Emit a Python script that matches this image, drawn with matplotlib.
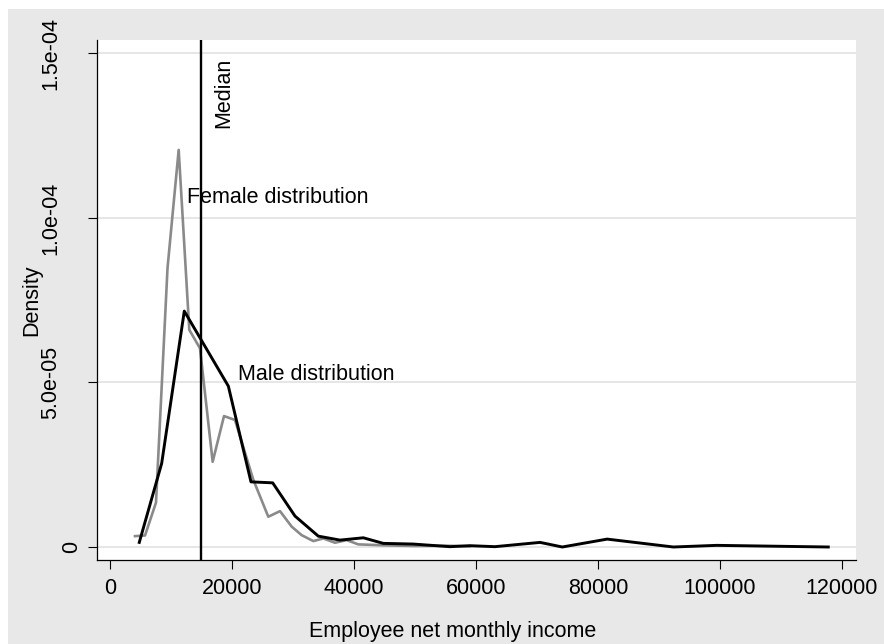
import matplotlib
matplotlib.use("Agg")
import matplotlib.pyplot as plt
from matplotlib.patches import Rectangle

plt.rcParams['font.family'] = ['Liberation Sans', 'DejaVu Sans']

# density estimates
male_x = [4800, 8470, 12180, 19400, 23110, 26670, 30330, 34150, 37700, 41530,
          44800, 49700, 55700, 59000, 63100, 70500, 74150, 81500, 92350, 99450, 117750]
male_y = [0.14e-5, 2.54e-5, 7.17e-5, 4.89e-5, 1.98e-5, 1.95e-5, 0.94e-5, 0.33e-5,
          0.21e-5, 0.28e-5, 0.11e-5, 0.09e-5, 0.01e-5, 0.04e-5, 0.01e-5, 0.14e-5,
          0.0, 0.24e-5, 0.0, 0.05e-5, 0.0]

female_x = [4100, 5740, 7540, 9430, 11260, 13000, 14750, 16830, 18690, 20490,
            23500, 25950, 27870, 29780, 31420, 33330, 34970, 36880, 38800, 40700,
            45000, 50000, 55000, 59000]
female_y = [0.33e-5, 0.35e-5, 1.35e-5, 8.48e-5, 12.07e-5, 6.6e-5, 6.04e-5, 2.59e-5,
            3.98e-5, 3.86e-5, 2.04e-5, 0.92e-5, 1.09e-5, 0.62e-5, 0.36e-5, 0.18e-5,
            0.26e-5, 0.13e-5, 0.21e-5, 0.08e-5, 0.05e-5, 0.03e-5, 0.04e-5, 0.02e-5]

median = 15000

xticks = [0, 20000, 40000, 60000, 80000, 100000, 120000]
yticks = [0, 5e-5, 1e-4, 1.5e-4]
ytick_labels = ['0', '5.0e-05', '1.0e-04', '1.5e-04']

W, H = 884, 644
fig = plt.figure(figsize=(W / 100, H / 100), dpi=100, facecolor='white')
# stata style grey frame with a thin white border top/left
fig.patches.append(Rectangle((8 / W, 0), 1, (H - 9) / H, transform=fig.transFigure,
                             facecolor='#e8e8e8', edgecolor='none', zorder=-10))

ax = fig.add_axes([97 / W, (H - 560) / H, 759 / W, 520 / H])
ax.set_facecolor('white')

ax.plot(female_x, female_y, color='#8a8a8a', lw=1.9, zorder=3)
ax.plot(male_x, male_y, color='black', lw=2.1, zorder=4)
ax.axvline(median, color='black', lw=1.7, zorder=5)

fs = 15.5
ax.text(18690, 1.274e-4, 'Median', rotation=90, ha='center', va='bottom', fontsize=fs)
ax.text(12620, 1.061e-4, 'Female distribution', ha='left', va='center', fontsize=fs, zorder=6)
ax.text(20980, 5.23e-5, 'Male distribution', ha='left', va='center', fontsize=fs, zorder=6)

ax.set_xlim(-2131, 122295)
ax.set_ylim(-3.95e-6, 1.541e-4)
ax.set_xticks(xticks)
ax.set_xticklabels([str(t) for t in xticks])
ax.set_yticks(yticks)
ax.set_yticklabels(ytick_labels, rotation=90, va='center')
ax.yaxis.grid(True, color='#e4e4e4', lw=1.3)
ax.set_axisbelow(True)

for s in ['top', 'right']:
    ax.spines[s].set_visible(False)
for s in ['left', 'bottom']:
    ax.spines[s].set_linewidth(0.9)

ax.tick_params(axis='x', length=6.5, width=0.8, pad=6.5, labelsize=fs)
ax.tick_params(axis='y', length=6.5, width=0.8, pad=19, labelsize=fs)
ax.get_yticklabels()[0].set_ha('left')

ax.set_xlabel('Employee net monthly income', fontsize=fs)
ax.xaxis.set_label_coords(0.469, -0.117)
ax.set_ylabel('Density', fontsize=fs)
ax.yaxis.set_label_coords(-0.0725, 0.5)

fig.savefig('out.png', dpi=100, facecolor=fig.get_facecolor())
